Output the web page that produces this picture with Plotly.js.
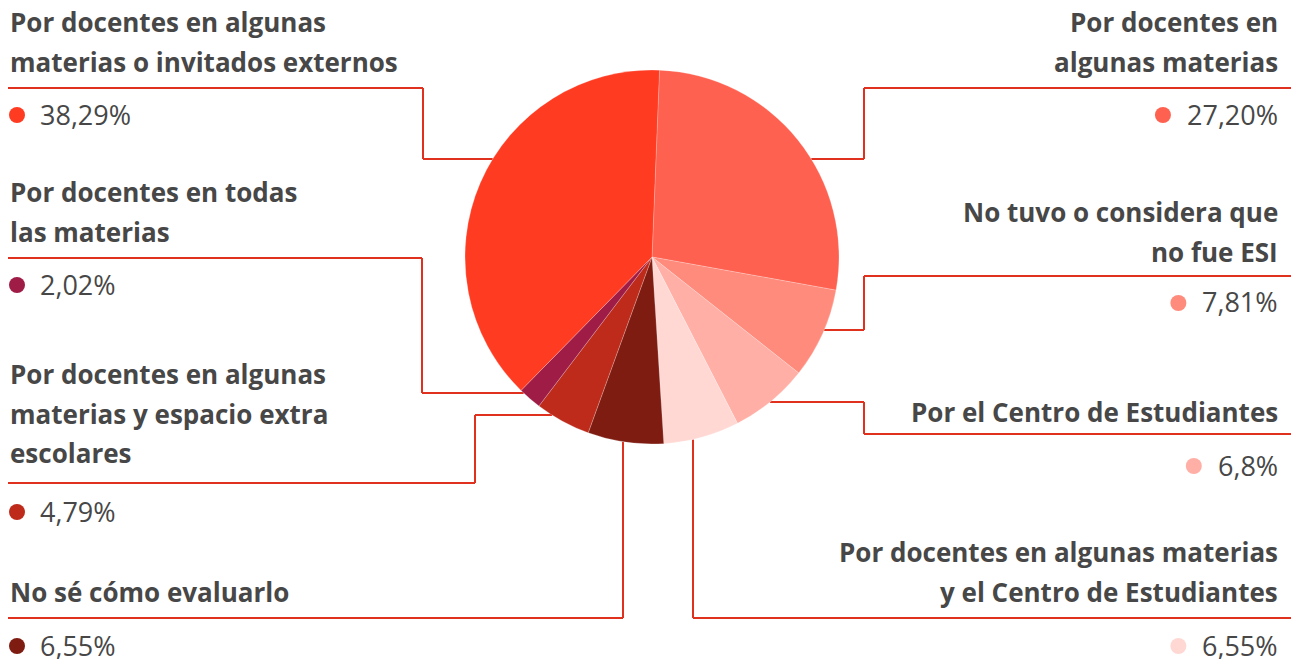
<!DOCTYPE html>
<html>
<head>
<meta charset="utf-8">
<script src="https://cdn.plot.ly/plotly-3.0.1.min.js"></script>
<style>html,body{margin:0;padding:0;background:#fff;}#chart{width:1291px;height:659px;}</style>
</head>
<body>
<div id="chart"></div>
<script>
// ---- data (clockwise from 12 o'clock) ----
var categories = [
  "Por docentes en algunas materias",
  "No tuvo o considera que no fue ESI",
  "Por el Centro de Estudiantes",
  "Por docentes en algunas materias y el Centro de Estudiantes",
  "No sé cómo evaluarlo",
  "Por docentes en algunas materias y espacio extra escolares",
  "Por docentes en todas las materias",
  "Por docentes en algunas materias o invitados externos"
];
var values = [27.20, 7.81, 6.8, 6.55, 6.55, 4.79, 2.02, 38.29];
var pctLabels = ["27,20%", "7,81%", "6,8%", "6,55%", "6,55%", "4,79%", "2,02%", "38,29%"];
var labelLines = [
  ["Por docentes en", "algunas materias"],
  ["No tuvo o considera que", "no fue ESI"],
  ["Por el Centro de Estudiantes"],
  ["Por docentes en algunas materias", "y el Centro de Estudiantes"],
  ["No sé cómo evaluarlo"],
  ["Por docentes en algunas", "materias y espacio extra", "escolares"],
  ["Por docentes en todas", "las materias"],
  ["Por docentes en algunas", "materias o invitados externos"]
];
var colors = ["#ff6150", "#ff8b7c", "#ffafa5", "#ffd8d4", "#7f1c12", "#be2b1b", "#9e1c46", "#ff3b22"];

// ---- layout geometry (pixels) ----
var W = 1291, H = 659;
var CX = 652, CY = 257, R = 187;
var LINE = "#e0301e", TXT = "#474747";
var FONT = "'Open Sans', Lato, sans-serif";
var FS = 26, PFS = 27;

var place = [
  {side: "R", lines: [22, 62],        pct: 115, rule: 88,  elbowX: 864, connY: 159},
  {side: "R", lines: [212, 252],      pct: 303, rule: 276, elbowX: 864, connY: 330},
  {side: "R", lines: [412],           pct: 466, rule: 434, elbowX: 864, connY: 402},
  {side: "R", lines: [552, 592],      pct: 646, rule: 618, vertX: 693},
  {side: "L", lines: [592],           pct: 646, rule: 618, vertX: 623},
  {side: "L", lines: [374, 414, 453], pct: 512, rule: 483, elbowX: 475, connY: 415},
  {side: "L", lines: [192, 232],      pct: 285, rule: 258, elbowX: 422, connY: 393},
  {side: "L", lines: [22, 62],        pct: 115, rule: 88,  elbowX: 423, connY: 159}
];

function px(x){ return x / W; }
function py(y){ return 1 - y / H; }

var cv = document.createElement("canvas").getContext("2d");
cv.font = "400 " + PFS + "px 'Open Sans'";
function textW(t){ return cv.measureText(t).width; }

var annotations = [];
var shapes = [];
var LEFTX = 9, RIGHTX = 1279, RULE_L = 8, RULE_R = 1291;
var DOT_R = 8, DOT_GAP = 25;

function seg(x0, y0, x1, y1){
  shapes.push({type: "line", xref: "paper", yref: "paper", layer: "below",
    x0: px(x0), y0: py(y0), x1: px(x1), y1: py(y1),
    line: {color: LINE, width: 2}});
}

place.forEach(function(p, i){
  var isL = p.side === "L";
  labelLines[i].forEach(function(t, k){
    annotations.push({xref: "paper", yref: "paper", x: px(isL ? LEFTX : RIGHTX), y: py(p.lines[k]),
      xanchor: isL ? "left" : "right", yanchor: "middle", showarrow: false, borderpad: 0,
      text: "<b>" + t + "</b>", font: {family: FONT, size: FS, color: TXT}});
  });
  var pctX = isL ? 39 : RIGHTX;
  annotations.push({xref: "paper", yref: "paper", x: px(pctX), y: py(p.pct - 1),
    xanchor: isL ? "left" : "right", yanchor: "middle", showarrow: false, borderpad: 0,
    text: pctLabels[i], font: {family: FONT, size: PFS, color: TXT}});
  var dotX = isL ? 17 : RIGHTX - textW(pctLabels[i]) - DOT_GAP;
  shapes.push({type: "circle", xref: "paper", yref: "paper", xsizemode: "pixel", ysizemode: "pixel",
    xanchor: px(dotX), yanchor: py(p.pct), x0: -DOT_R, x1: DOT_R, y0: -DOT_R, y1: DOT_R,
    fillcolor: colors[i], line: {width: 0}});

  if (isL) {
    seg(RULE_L, p.rule, p.elbowX !== undefined ? p.elbowX : p.vertX, p.rule);
  } else {
    seg(p.elbowX !== undefined ? p.elbowX : p.vertX, p.rule, RULE_R, p.rule);
  }
  if (p.elbowX !== undefined) {
    seg(p.elbowX, p.rule, p.elbowX, p.connY);
    var dx = Math.sqrt(Math.max(0, R * R - (p.connY - CY) * (p.connY - CY)));
    seg(p.elbowX, p.connY, isL ? CX - dx : CX + dx, p.connY);
  } else {
    var dy = Math.sqrt(Math.max(0, R * R - (p.vertX - CX) * (p.vertX - CX)));
    seg(p.vertX, p.rule, p.vertX, CY + dy);
  }
});

var trace = {
  type: "pie",
  labels: categories,
  values: values,
  sort: false,
  direction: "clockwise",
  rotation: 2.3,
  textinfo: "none",
  hoverinfo: "label+percent",
  marker: {colors: colors, line: {color: "rgba(255,255,255,0.35)", width: 0.6}},
  domain: {x: [px(CX - R), px(CX + R)], y: [py(CY + R), py(CY - R)]},
  showlegend: false
};

var layout = {
  width: W, height: H,
  margin: {l: 0, r: 0, t: 0, b: 0},
  paper_bgcolor: "#ffffff",
  showlegend: false,
  annotations: annotations,
  shapes: shapes
};

Plotly.newPlot("chart", [trace], layout, {displayModeBar: false, staticPlot: true});
</script>
</body>
</html>
